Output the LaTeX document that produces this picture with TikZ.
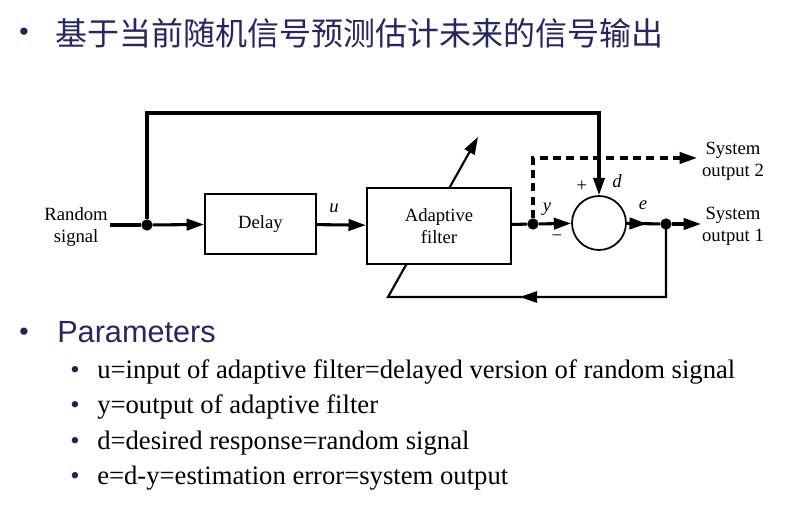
\documentclass[tikz,border=0pt]{standalone}
\usepackage{fontspec}
\setmainfont{Liberation Serif}
\newfontfamily\cjk{Noto Sans CJK SC}
\newfontfamily\arialf{Liberation Sans}
\usetikzlibrary{arrows.meta,decorations.markings}
\pgfdeclarelayer{background}
\pgfsetlayers{background,main}
\definecolor{navy}{RGB}{38,38,100}
\definecolor{bulletc}{RGB}{25,40,80}
\tikzset{
  sig/.style={line width=2.3pt},
  tipa/.style={-{Triangle[length=13pt,width=8.5pt]}},
  blockbox/.style={draw,line width=1.7pt,fill=white,font=\fontsize{14}{16.5}\selectfont,align=center,inner sep=0pt},
  jdot/.style={circle,fill=black,inner sep=0pt,minimum size=8.5pt},
  lbl/.style={font=\fontsize{14}{16.5}\selectfont\itshape,inner sep=0pt},
  txt/.style={font=\fontsize{14}{16.5}\selectfont,align=center,inner sep=0pt},
  midtip/.style={postaction={decorate},decoration={markings,mark=at position #1 with {\arrow{Triangle[length=13pt,width=8.5pt]}}}},
  subtxt/.style={anchor=base west,font=\fontsize{20}{24}\selectfont,inner sep=0pt},
  subbul/.style={anchor=base,text=bulletc,font=\fontsize{20}{24}\selectfont,inner sep=0pt}
}
\begin{document}
\begin{tikzpicture}[x=0.75pt,y=-0.75pt]
\useasboundingbox (0,0) rectangle (793,509);
% title
\node[text=bulletc,font=\fontsize{20}{24}\selectfont\arialf,inner sep=0pt] (b0) at (24,34) {•};
\node[anchor=west,text=navy,font=\fontsize{24}{28}\selectfont\cjk,inner sep=0pt] (title) at (55,33) {基于当前随机信号预测估计未来的信号输出};
% diagram
\node[txt,anchor=east] (rs) at (108,227) {Random\\signal};
\coordinate (in) at (110,225);
\node[jdot] (j1) at (147,225) {};
\node[blockbox,minimum width=83pt,minimum height=45pt] (delay) at (260.5,224) {Delay};
\node[blockbox,minimum width=108pt,minimum height=57pt] (af) at (439,226) {Adaptive\\filter};
\node[jdot] (j2) at (533,224) {};
\node[draw,circle,line width=1.3pt,minimum size=40.5pt,inner sep=0pt] (sum) at (599,223) {};
\node[jdot] (j3) at (666,224) {};
\coordinate (top) at (147,113);
\coordinate (o2) at (697,158);
\coordinate (o1) at (701,224);
\coordinate (fb) at (388,297);
\coordinate (tip) at (478,137);
\node[txt] (so2) at (733,161) {System\\output 2};
\node[txt] (so1) at (733,226) {System\\output 1};
\node[lbl] (lu) at (334,208) {u};
\node[lbl] (ly) at (547,209) {y};
\node[lbl] (ld) at (617,181) {d};
\node[lbl] (le) at (643,205) {e};
\node[txt] (lp) at (582,186) {+};
\node[txt] (lm) at (557,238) {\textminus};
\begin{pgfonlayer}{background}
\draw[line width=1.6pt,tipa,midtip=0.41,line join=miter] (j3.center) |- (fb) -- (tip);
\end{pgfonlayer}
\draw[sig] (in) -- (j1);
\draw[sig,tipa] (j1) -- (delay);
\draw[sig,tipa] (delay) -- (af);
\draw[sig] (af) -- (j2);
\draw[sig,tipa] (j2) -- (sum);
\draw[sig,tipa] (j1) -- (top) -| (sum.north);
\draw[sig,midtip=0.6] (sum) -- (j3);
\draw[sig,tipa] (j3) -- (o1);
\draw[line width=2.3pt,tipa,dash pattern=on 6pt off 4pt] (j2) |- (o2);
% parameters
\node[text=bulletc,font=\fontsize{20}{24}\selectfont\arialf,inner sep=0pt] (b1) at (24,334) {•};
\node[anchor=base west,text=navy,font=\fontsize{23}{28}\selectfont\arialf,inner sep=0pt] (par) at (57,343) {Parameters};
\node[subbul] (s1) at (75,379) {•};
\node[subtxt] (t1) at (97,379) {u=input of adaptive filter=delayed version of random signal};
\node[subbul] (s2) at (75,414) {•};
\node[subtxt] (t2) at (97,414) {y=output of adaptive filter};
\node[subbul] (s3) at (75,450) {•};
\node[subtxt] (t3) at (97,450) {d=desired response=random signal};
\node[subbul] (s4) at (75,485) {•};
\node[subtxt] (t4) at (97,485) {e=d-y=estimation error=system output};
\end{tikzpicture}
\end{document}
